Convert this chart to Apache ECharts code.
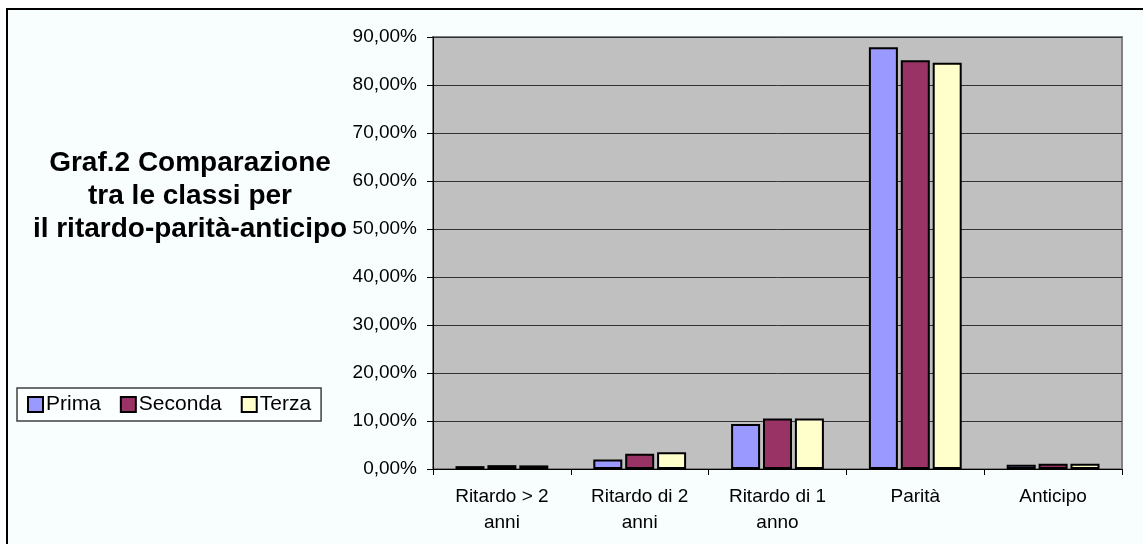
<!DOCTYPE html>
<html>
<head>
<meta charset="utf-8">
<script src="https://cdn.jsdelivr.net/npm/echarts@6/dist/echarts.min.js"></script>
<style>
  html, body { margin: 0; padding: 0; background: #ffffff; }
  #chart { width: 1143px; height: 544px; }
</style>
</head>
<body>
<div id="chart"></div>
<script>
const categories = ['Ritardo > 2\nanni', 'Ritardo di 2\nanni', 'Ritardo di 1\nanno', 'Parità', 'Anticipo']
const prima = [0.6, 2.0, 9.4, 87.85, 0.9]
const seconda = [0.8, 3.2, 10.5, 85.15, 1.1]
const terza = [0.75, 3.5, 10.5, 84.65, 1.1]
const titleLines = ['Graf.2 Comparazione', 'tra le classi per', 'il ritardo-parità-anticipo']

const FONT = '"Liberation Sans", Arial, Helvetica, sans-serif'
const COLORS = { Prima: '#9999ff', Seconda: '#993366', Terza: '#ffffcc' }

const chart = echarts.init(document.getElementById('chart'), null, { renderer: 'canvas' })

const makeSeries = (name, values) => ({
  name,
  type: 'bar',
  data: values,
  barWidth: 29,
  barGap: '10%',
  itemStyle: { color: COLORS[name], borderColor: '#000', borderWidth: 2 },
})

chart.setOption({
  animation: false,
  textStyle: { fontFamily: FONT },
  graphic: [
    {
      type: 'rect',
      z: -100,
      silent: true,
      shape: { x: 7, y: 9, width: 1150, height: 550 },
      style: { fill: '#f8fefe', stroke: '#000', lineWidth: 2 },
    },
    {
      type: 'text',
      silent: true,
      style: {
        text: titleLines.join('\n'),
        x: 190, y: 196,
        align: 'center', verticalAlign: 'middle',
        fill: '#000',
        fontFamily: FONT, fontWeight: 'bold', fontSize: 28,
        lineHeight: 33,
      },
    },
  ],
  legend: {
    left: 17, top: 388,
    orient: 'horizontal',
    icon: 'rect',
    itemWidth: 15, itemHeight: 15, itemGap: 19,
    padding: [6, 10],
    backgroundColor: '#fbffff',
    borderColor: '#404040', borderWidth: 1.5,
    itemStyle: { borderColor: '#000', borderWidth: 2 },
    textStyle: { color: '#000', fontSize: 21, fontFamily: FONT, padding: [0, 0, 0, -2] },
    data: ['Prima', 'Seconda', 'Terza'],
  },
  grid: {
    left: 433, right: 21, top: 37, bottom: 75,
    show: true,
    backgroundColor: '#c0c0c0',
    borderColor: '#808080', borderWidth: 2,
  },
  xAxis: {
    type: 'category',
    data: categories,
    axisLine: { lineStyle: { color: '#000', width: 1 } },
    axisTick: { show: true, length: 6, lineStyle: { color: '#000' } },
    axisLabel: {
      color: '#000', fontSize: 19, fontFamily: FONT,
      lineHeight: 26, margin: 15, interval: 0,
    },
  },
  yAxis: {
    type: 'value',
    min: 0, max: 90, interval: 10,
    axisLine: { show: true, lineStyle: { color: '#000', width: 1 } },
    axisTick: { show: true, length: 6, lineStyle: { color: '#000' } },
    axisLabel: {
      color: '#000', fontSize: 19, fontFamily: FONT, margin: 16,
      formatter: v => v.toFixed(2).replace('.', ',') + '%',
    },
    splitLine: { lineStyle: { color: '#333', width: 1 } },
  },
  series: [
    makeSeries('Prima', prima),
    makeSeries('Seconda', seconda),
    makeSeries('Terza', terza),
  ],
})
</script>
</body>
</html>
